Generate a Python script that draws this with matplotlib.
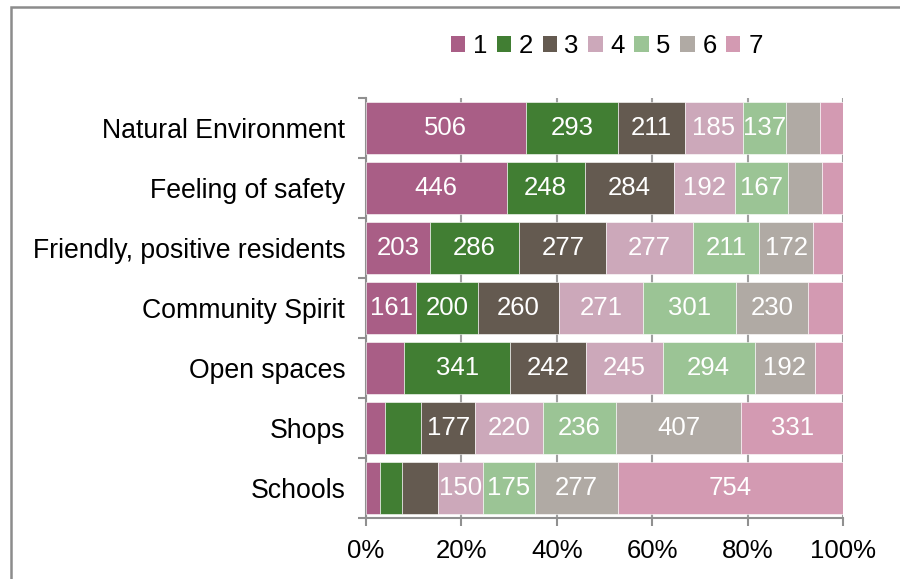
import matplotlib
matplotlib.use("Agg")
import matplotlib.pyplot as plt
import numpy as np
from matplotlib.patches import Rectangle, Patch

plt.rcParams['font.family'] = ['Liberation Sans', 'DejaVu Sans']

categories = ["Natural Environment", "Feeling of safety", "Friendly, positive residents",
              "Community Spirit", "Open spaces", "Shops", "Schools"]
series_names = ["1", "2", "3", "4", "5", "6", "7"]
s1 = [506, 446, 203, 161, 121, 63, 48]
s2 = [293, 248, 286, 200, 341, 115, 73]
s3 = [211, 284, 277, 260, 242, 177, 119]
s4 = [185, 192, 277, 271, 245, 220, 150]
s5 = [137, 167, 211, 301, 294, 236, 175]
s6 = [107, 108, 172, 230, 192, 407, 277]
s7 = [74, 69, 96, 115, 92, 331, 754]
xticklabels = ["0%", "20%", "40%", "60%", "80%", "100%"]

colors = ["#A95E86", "#417E33", "#645A50", "#CCA8BA", "#9BC495", "#B0AAA4", "#D39AB2"]
label_min = 130

data = np.array([s1, s2, s3, s4, s5, s6, s7], dtype=float)
totals = data.sum(axis=0)
pct = data / totals * 100

fig = plt.figure(figsize=(9, 5.79), dpi=100)
ax = fig.add_axes([0.4067, 0.1054, 0.5303, 0.7253])

y = np.arange(len(categories))
left = np.zeros(len(categories))
fs = 18.5
for i, name in enumerate(series_names):
    bars = ax.barh(y, pct[i], left=left, height=0.88, color=colors[i],
                   edgecolor='white', linewidth=0.4, label=name, zorder=3)
    for j, b in enumerate(bars):
        if data[i, j] >= label_min:
            ax.text(left[j] + pct[i, j] / 2, y[j], f"{int(data[i, j])}",
                    ha='center', va='center', color='white', fontsize=fs, zorder=4)
    left += pct[i]

ax.set_xlim(0, 100)
ax.set_ylim(len(categories) - 0.5, -0.5)
ax.set_xticks(np.arange(0, 101, 20))
ax.set_xticklabels(xticklabels, fontsize=fs)
ax.set_yticks(y)
ax.set_yticklabels(categories, fontsize=19.2)
ax.set_yticks(np.arange(-0.5, len(categories), 1), minor=True)
ax.tick_params(axis='y', which='major', length=0, pad=15)
ax.tick_params(axis='y', which='minor', length=6, width=1.5, color='#909090')
ax.tick_params(axis='x', which='major', length=6, width=1.5, color='#909090', pad=9)
ax.xaxis.grid(True, color='#a0a0a0', linewidth=1.5, zorder=0)
ax.set_axisbelow(True)
for side in ['top', 'right']:
    ax.spines[side].set_visible(False)
for side in ['left', 'bottom']:
    ax.spines[side].set_color('#909090')
    ax.spines[side].set_linewidth(1.5)

handles = [Patch(facecolor=c, edgecolor='none') for c in colors]
fig.legend(handles, series_names, loc='center', bbox_to_anchor=(0.674, 1 - 46 / 579),
           ncol=7, frameon=False, fontsize=fs, handlelength=0.55, handleheight=0.55,
           handletextpad=0.3, columnspacing=0.38)

# outer chart frame (left and top edges visible)
fig.patches.append(Rectangle((11 / 900, -0.1), 1.2, 1.1 - 7 / 579, transform=fig.transFigure,
                             fill=False, edgecolor='#8c8c8c', linewidth=1.8, zorder=0))

fig.savefig("out.png", dpi=100)
